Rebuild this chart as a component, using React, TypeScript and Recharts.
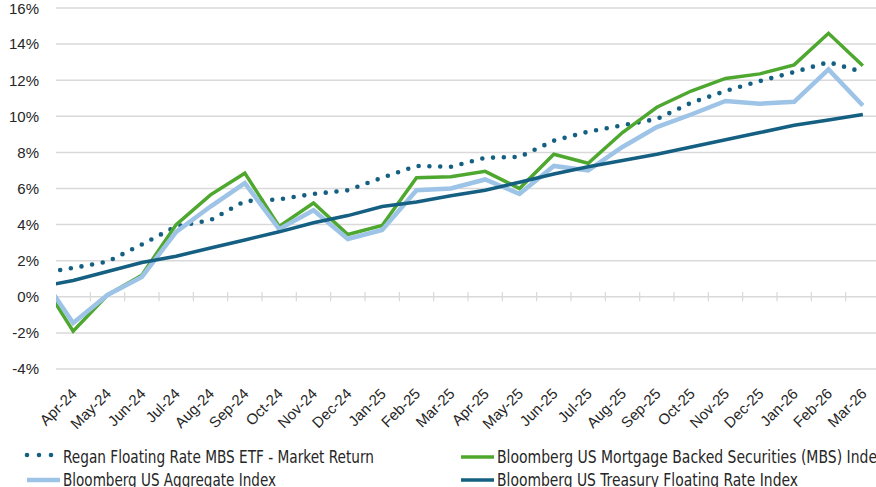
import React from "react";
import {
  CartesianGrid,
  Legend,
  Line,
  LineChart,
  ReferenceLine,
  XAxis,
  YAxis,
} from "recharts";

// Month labels. The first entry is the lead-in point that sits half a
// category left of the plot edge (only its segment toward Apr-24 shows).
const months = [
  "Mar-24", "Apr-24", "May-24", "Jun-24", "Jul-24", "Aug-24", "Sep-24",
  "Oct-24", "Nov-24", "Dec-24", "Jan-25", "Feb-25", "Mar-25", "Apr-25",
  "May-25", "Jun-25", "Jul-25", "Aug-25", "Sep-25", "Oct-25", "Nov-25",
  "Dec-25", "Jan-26", "Feb-26", "Mar-26",
];

// Cumulative returns, in percent.
const regan = [
  1.3, 1.6, 1.95, 2.9, 3.9, 4.25, 5.3, 5.4, 5.7, 5.9, 6.6, 7.25, 7.2, 7.7,
  7.75, 8.65, 9.15, 9.5, 9.85, 10.75, 11.4, 11.95, 12.45, 13.0, 12.45,
];
const mbs = [
  1.1, -1.9, 0.1, 1.2, 4.0, 5.65, 6.85, 3.9, 5.2, 3.45, 3.95, 6.6, 6.65, 6.95,
  6.0, 7.9, 7.4, 9.1, 10.5, 11.4, 12.1, 12.35, 12.85, 14.6, 12.8,
];
const aggregate = [
  1.35, -1.45, 0.1, 1.1, 3.6, 5.0, 6.3, 3.75, 4.8, 3.2, 3.7, 5.9, 6.0, 6.5,
  5.7, 7.25, 7.0, 8.3, 9.4, 10.1, 10.85, 10.7, 10.8, 12.6, 10.6,
];
const treasury = [
  0.54, 0.9, 1.4, 1.9, 2.25, 2.7, 3.15, 3.6, 4.1, 4.5, 5.0, 5.25, 5.6, 5.9,
  6.35, 6.8, 7.2, 7.55, 7.9, 8.3, 8.7, 9.1, 9.5, 9.8, 10.1,
];

const yTicks = [-4, -2, 0, 2, 4, 6, 8, 10, 12, 14, 16];

const data = months.map((month, idx) => ({
  idx,
  month,
  regan: regan[idx],
  mbs: mbs[idx],
  aggregate: aggregate[idx],
  treasury: treasury[idx],
}));

// visible categories are idx 1..24, boundaries between them get a tick mark
const xTicks = months.map((_, i) => i).slice(1);
const boundaries = xTicks.slice(0, -1).map((i) => i + 0.5);

const DARK = "#156082";
const GREEN = "#4ea72e";
const LIGHT = "#9dc3e6";
const GRID = "#d9d9d9";
const TEXT = "#262626";

// legend: [label, colour, dotted?, column, row, text width]
const legendItems: Array<[string, string, boolean, number, number, number]> = [
  ["Regan Floating Rate MBS ETF - Market Return", DARK, true, 0, 0, 311],
  ["Bloomberg US Mortgage Backed Securities (MBS) Index", GREEN, false, 1, 0, 388],
  ["Bloomberg US Aggregate Index", LIGHT, false, 0, 1, 213],
  ["Bloomberg US Treasury Floating Rate Index", DARK, false, 1, 1, 301],
];

function MonthTick({ x, y, payload }: any) {
  const ax = x + 1;
  const ay = y + 14;
  return (
    <text
      x={ax}
      y={ay}
      dy="0.35em"
      transform={`rotate(-45 ${ax} ${ay})`}
      textAnchor="end"
      fontSize={15}
      fill={TEXT}
      fontFamily="'Liberation Sans', Arial, sans-serif"
    >
      {months[payload.value]}
    </text>
  );
}

function ChartLegend() {
  const colX = [27, 461];
  const rowY = [23, 46];
  return (
    <svg width={880} height={47} style={{ display: "block" }}>
      {legendItems.map(([label, color, dotted, col, row, w]) => {
        const x0 = colX[col];
        const y0 = rowY[row] - 6;
        return (
          <g key={label}>
            {dotted ? (
              <line
                x1={x0}
                x2={x0 + 25}
                y1={y0 - 2}
                y2={y0 - 2}
                stroke={color}
                strokeWidth={4.6}
                strokeLinecap="round"
                strokeDasharray="0 12"
              />
            ) : (
              <line
                x1={x0}
                x2={x0 + 33}
                y1={y0}
                y2={y0}
                stroke={color}
                strokeWidth={color === LIGHT ? 4.5 : 3.5}
              />
            )}
            <text
              x={x0 + 36}
              y={rowY[row]}
              fontSize={17.5}
              fill={TEXT}
              fontFamily="'Liberation Sans Narrow', 'DejaVu Sans Condensed', sans-serif"
              textLength={w}
              lengthAdjust="spacingAndGlyphs"
            >
              {label}
            </text>
          </g>
        );
      })}
    </svg>
  );
}

export default function App() {
  return (
    <div
      style={{
        position: "absolute",
        left: 0,
        top: 0,
        width: 876,
        height: 487,
        overflow: "hidden",
        background: "#fff",
      }}
    >
      <LineChart
        width={884}
        height={487}
        data={data}
        margin={{ top: 8, right: 4, bottom: 0, left: 0 }}
      >
        <CartesianGrid horizontal vertical={false} stroke={GRID} strokeWidth={1.5} />
        <XAxis
          dataKey="idx"
          type="number"
          domain={[0.5, 24.5]}
          allowDataOverflow
          ticks={xTicks}
          interval={0}
          tick={<MonthTick />}
          axisLine={false}
          tickLine={false}
          height={71}
        />
        <YAxis
          domain={[-4, 16]}
          ticks={yTicks}
          tickFormatter={(v: number) => `${v}%`}
          axisLine={false}
          tickLine={false}
          tickSize={0}
          tickMargin={17}
          width={56}
          tick={{
            fontSize: 15,
            fill: TEXT,
            fontFamily: "'Liberation Sans', Arial, sans-serif",
          }}
        />
        {boundaries.map((b) => (
          <ReferenceLine
            key={b}
            segment={[
              { x: b, y: -0.24 },
              { x: b, y: 0.27 },
            ]}
            stroke={GRID}
            strokeWidth={1.2}
          />
        ))}
        <Legend verticalAlign="bottom" content={<ChartLegend />} />
        <Line
          dataKey="regan"
          stroke={DARK}
          strokeWidth={4.6}
          strokeLinecap="round"
          strokeDasharray="0 10.8"
          dot={false}
          activeDot={false}
          isAnimationActive={false}
        />
        <Line
          dataKey="mbs"
          stroke={GREEN}
          strokeWidth={3.5}
          dot={false}
          activeDot={false}
          isAnimationActive={false}
        />
        <Line
          dataKey="aggregate"
          stroke={LIGHT}
          strokeWidth={4.5}
          dot={false}
          activeDot={false}
          isAnimationActive={false}
        />
        <Line
          dataKey="treasury"
          stroke={DARK}
          strokeWidth={3.5}
          dot={false}
          activeDot={false}
          isAnimationActive={false}
        />
      </LineChart>
    </div>
  );
}
